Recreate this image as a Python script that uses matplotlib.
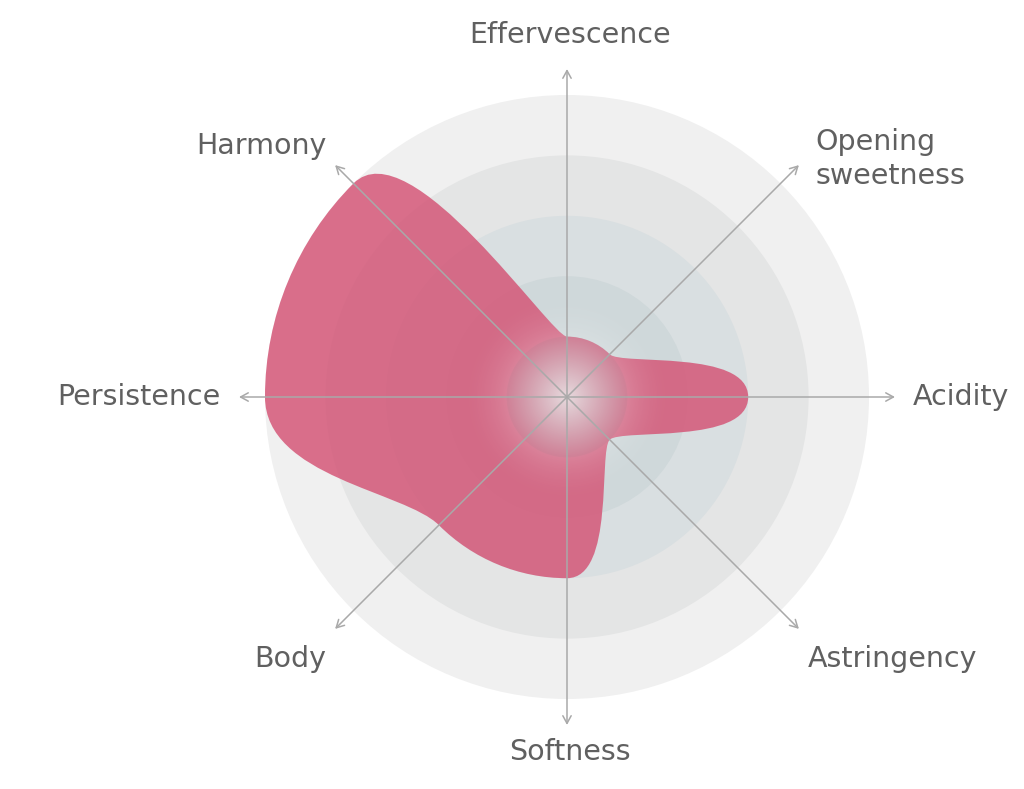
import numpy as np
import matplotlib
matplotlib.use("Agg")
import matplotlib.pyplot as plt
from matplotlib.patches import Circle, PathPatch
from matplotlib.path import Path

# ---- data ----
categories = ["Effervescence", "Opening\nsweetness", "Acidity", "Astringency",
              "Softness", "Body", "Persistence", "Harmony"]
values = [1, 1, 3, 1, 3, 3, 5, 5]
levels = [5, 4, 3, 2, 1]
ring_colors = ["#f0f0f0", "#e4e5e5", "#d9dfe1", "#cfd8da", "#c6d0d2"]

# ---- figure ----
W, H = 1024, 789
cx, cy = 567, 397          # centre pixel
unit = 60.4                # pixels per level
fig = plt.figure(figsize=(W / 100, H / 100), dpi=100)
ax = fig.add_axes([0, 0, 1, 1])
ax.axis("off")

# rings
for lv, col in zip(levels, ring_colors):
    ax.add_patch(Circle((0, 0), lv, facecolor=col, edgecolor="none", zorder=1))

n = len(categories)
step = 2 * np.pi / n
angles = np.pi / 2 - np.arange(n) * step
r = np.array(values, dtype=float)
pts = np.column_stack([r * np.cos(angles), r * np.sin(angles)])
# clockwise unit tangents (perpendicular to each spoke)
tang = np.column_stack([np.sin(angles), -np.cos(angles)])
k = 4.0 / 3.0 * np.tan(step / 4)

verts = [pts[0]]
codes = [Path.MOVETO]
for i in range(n):
    j = (i + 1) % n
    c1 = pts[i] + k * r[i] * tang[i]
    c2 = pts[j] - k * r[j] * tang[j]
    verts += [c1, c2, pts[j]]
    codes += [Path.CURVE4] * 3
shape = PathPatch(Path(verts, codes), facecolor=(212 / 255, 82 / 255, 116 / 255, 0.82),
                  edgecolor="none", zorder=2)
ax.add_patch(shape)

# central glow: inner disc with gradient + soft halo
g = np.linspace(-2.0, 2.0, 500)
X, Y = np.meshgrid(g, g)
R = np.hypot(X, Y)
rgba = np.zeros((500, 500, 4))
inside = R <= 1.0
t = np.clip(R, 0, 1)
col_in = np.array([236, 236, 236]) / 255
col_edge = np.array([205, 208, 210]) / 255
rgba[..., :3] = np.where(inside[..., None],
                         col_in * (1 - t[..., None]) + col_edge * t[..., None],
                         1.0)
a_in = 0.85 - 0.62 * t ** 1.2
a_out = 0.16 * np.clip(1 - (R - 1.0) / 0.8, 0, 1) ** 2
rgba[..., 3] = np.where(inside, a_in, a_out)
ax.imshow(rgba, extent=(-2.0, 2.0, -2.0, 2.0), zorder=3, interpolation="bilinear")
ax.set_xlim(-cx / unit, (W - cx) / unit)
ax.set_ylim(-(H - cy) / unit, cy / unit)
ax.set_aspect("auto")

# axes with arrows
arrow_r = 5.43
for ang in angles:
    ax.annotate("", xy=(arrow_r * np.cos(ang), arrow_r * np.sin(ang)), xytext=(0, 0),
                arrowprops=dict(arrowstyle="->,head_length=0.55,head_width=0.3",
                                color="#a9a9a9", lw=1.1, shrinkA=0, shrinkB=0),
                zorder=4)

# labels
plt.rcParams["font.family"] = ["DejaVu Sans"]
for lab, ang in zip(categories, angles):
    c, s = np.cos(ang), np.sin(ang)
    if abs(c) < 1e-6:
        ha = "center"
        x = 0.05
        y = 6.0 if s > 0 else -5.87
    else:
        ha = "left" if c > 0 else "right"
        if abs(s) < 1e-6:
            x = 5.73 * np.sign(c)
            y = 0.0
        else:
            x = 3.98 * np.sign(c)
            y = 4.15 if s > 0 else -4.33
            if lab.startswith("Opening"):
                y = 3.94
                x = 4.12
    ax.text(x, y, lab, ha=ha, va="center", fontsize=20.5, color="#606060",
            linespacing=1.28, zorder=5)

fig.savefig("out.png", dpi=100)
